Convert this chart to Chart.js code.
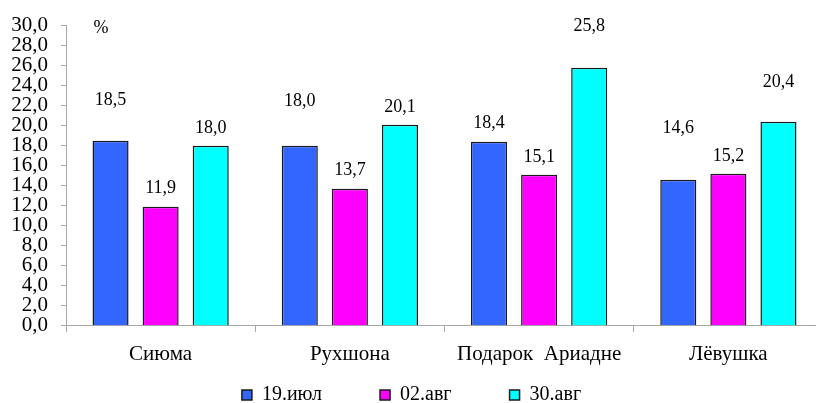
<!DOCTYPE html>
<html>
<head>
<meta charset="utf-8">
<script src="https://cdn.jsdelivr.net/npm/chart.js@4.4.1/dist/chart.umd.min.js"></script>
<style>
  html, body { margin: 0; padding: 0; background: #fff; overflow: hidden; }
  #wrap { width: 816px; height: 403px; overflow: hidden; position: relative; }
  canvas { display: block; }
</style>
</head>
<body>
<div id="wrap"><canvas id="c" width="824" height="403"></canvas></div>
<script>
// Varieties and sampling dates
const varieties = ['Сиюма', 'Рухшона', 'Подарок  Ариадне', 'Лёвушка'];
const dateLabels = ['19.июл', '02.авг', '30.авг'];

// Values, % (one array per sampling date)
const jul19 = [18.5, 18.0, 18.4, 14.6];
const aug02 = [11.9, 13.7, 15.1, 15.2];
const aug30 = [18.0, 20.1, 25.8, 20.4];

// Y axis range
const yMin = 0, yMax = 30, yStep = 2;

// How far each value label sits above its bar (px), per date then variety
const labelLift = [
  [40, 44, 18, 51],
  [18, 18, 17, 17],
  [17, 17, 41, 39]
];

const seriesColors = ['#3366FF', '#FF00FF', '#00FFFF'];
const serif = "'Liberation Serif', 'Times New Roman', serif";
const fmt = v => v.toFixed(1).replace('.', ',');

const valueLabels = {
  id: 'valueLabels',
  afterDatasetsDraw(chart) {
    const ctx = chart.ctx;
    ctx.save();
    ctx.font = '18px ' + serif;
    ctx.fillStyle = '#000';
    ctx.textAlign = 'center';
    ctx.textBaseline = 'middle';
    chart.data.datasets.forEach((ds, di) => {
      chart.getDatasetMeta(di).data.forEach((bar, i) => {
        ctx.fillText(fmt(ds.data[i]), bar.x, bar.y - labelLift[di][i]);
      });
    });
    ctx.restore();
  }
};

const unitLabel = {
  id: 'unitLabel',
  afterDraw(chart) {
    const ctx = chart.ctx, a = chart.chartArea;
    ctx.save();
    ctx.font = '18px ' + serif;
    ctx.fillStyle = '#000';
    ctx.textAlign = 'center';
    ctx.textBaseline = 'middle';
    ctx.fillText('%', a.left + 35, a.top + 3);
    ctx.restore();
  }
};

// Legend entries with a wider gap between them
const legendGap = '\u00a0'.repeat(10);
function legendItems(chart) {
  const items = Chart.defaults.plugins.legend.labels.generateLabels(chart);
  items.forEach((it, i) => { if (i < items.length - 1) it.text += legendGap; });
  return items;
}

new Chart(document.getElementById('c'), {
  type: 'bar',
  data: {
    labels: varieties,
    datasets: [jul19, aug02, aug30].map((d, i) => ({
      label: dateLabels[i],
      data: d,
      backgroundColor: seriesColors[i],
      borderColor: '#1a1a1a',
      borderWidth: 1.5,
      categoryPercentage: 0.794,
      barPercentage: 0.72
    }))
  },
  options: {
    responsive: false,
    animation: false,
    devicePixelRatio: 1,
    layout: { padding: { top: 12, right: 1, left: 0, bottom: -12 } },
    plugins: {
      legend: {
        position: 'bottom',
        labels: {
          boxWidth: 10,
          boxHeight: 10,
          padding: 8,
          color: '#000',
          font: { family: serif, size: 20 },
          generateLabels: legendItems
        }
      },
      tooltip: { enabled: false },
      title: { display: false }
    },
    scales: {
      x: {
        grid: { display: true, drawOnChartArea: false, offset: true, color: '#a6a6a6', tickLength: 6 },
        border: { color: '#a6a6a6', width: 1 },
        ticks: { color: '#000', padding: 10, maxRotation: 0, font: { family: serif, size: 21 } }
      },
      y: {
        min: yMin,
        max: yMax,
        afterFit(scale) { scale.width = 66; },
        grid: { display: true, drawOnChartArea: false, color: '#a6a6a6', tickLength: 5 },
        border: { color: '#a6a6a6', width: 1 },
        ticks: {
          stepSize: yStep,
          autoSkip: false,
          color: '#000',
          padding: 13,
          font: { family: serif, size: 21 },
          callback: v => fmt(v)
        }
      }
    }
  },
  plugins: [valueLabels, unitLabel]
});
</script>
</body>
</html>
